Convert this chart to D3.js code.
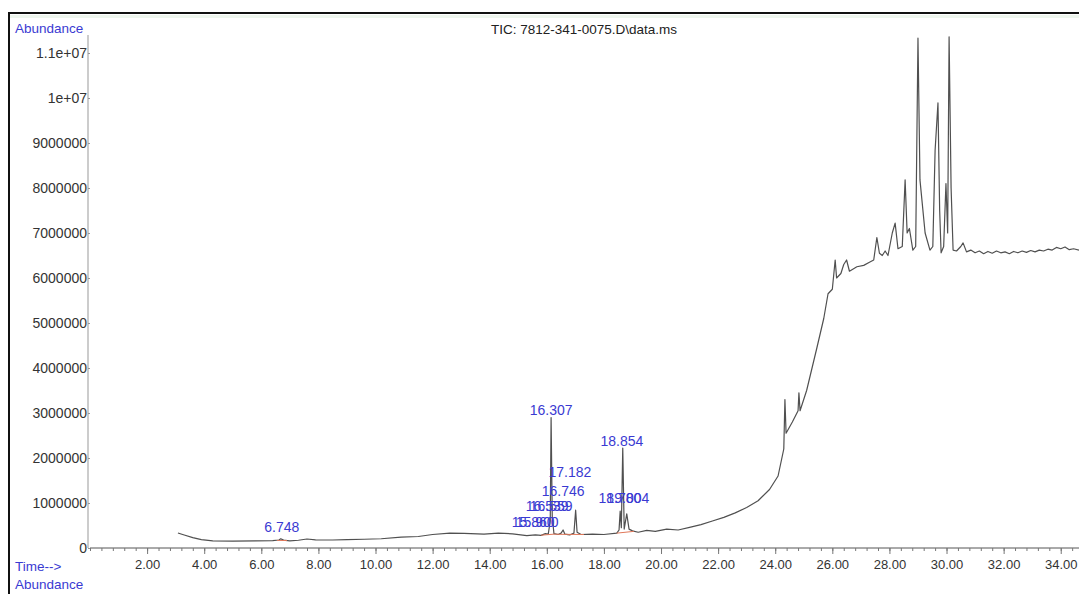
<!DOCTYPE html>
<html>
<head>
<meta charset="utf-8">
<script src="https://cdn.jsdelivr.net/npm/d3@7"></script>
<style>
    body { margin: 0; background: #fff; }
    svg { display: block; font-family: 'Liberation Sans', Arial, sans-serif; }
</style>
</head>
<body>
<svg id="chart" width="1079" height="594"></svg>
<script>
'use strict'

// TIC trace: retention time (min), abundance
const ticTrace = [
    [3.08, 333000], [3.3, 290000], [3.6, 230000], [3.9, 185000], [4.3, 160000],
    [5.0, 155000], [5.8, 158000], [6.4, 165000], [6.62, 178000], [6.68, 205000],
    [6.78, 175000], [7.0, 160000], [7.3, 172000], [7.6, 200000], [7.9, 182000],
    [8.5, 178000], [9.0, 185000], [9.6, 195000], [10.2, 205000], [10.9, 240000],
    [11.5, 255000], [12.0, 300000], [12.6, 330000], [13.1, 325000], [13.8, 310000],
    [14.3, 330000], [14.8, 315000], [15.3, 275000], [15.6, 290000], [15.8, 280000],
    [15.95, 320000], [16.05, 310000], [16.12, 600000], [16.15, 2900000], [16.19, 700000],
    [16.25, 320000], [16.4, 300000], [16.5, 330000], [16.57, 400000], [16.63, 310000],
    [16.8, 290000], [16.95, 330000], [17.01, 840000], [17.06, 350000], [17.2, 300000],
    [17.6, 310000], [18.0, 300000], [18.45, 330000], [18.53, 400000], [18.57, 820000],
    [18.61, 450000], [18.66, 2220000], [18.71, 420000], [18.8, 760000], [18.88, 420000],
    [19.0, 380000], [19.2, 350000], [19.5, 390000], [19.8, 370000], [20.2, 420000],
    [20.6, 400000], [21.0, 460000], [21.4, 520000], [21.8, 600000], [22.2, 680000],
    [22.6, 780000], [23.0, 900000], [23.4, 1050000], [23.8, 1300000], [24.1, 1600000],
    [24.3, 2200000], [24.34, 3300000], [24.38, 2550000], [24.6, 2800000], [24.8, 3050000],
    [24.83, 3450000], [24.87, 3050000], [25.1, 3500000], [25.46, 4450000], [25.7, 5100000],
    [25.85, 5650000], [26.0, 5750000], [26.1, 6400000], [26.15, 6000000], [26.3, 6100000],
    [26.4, 6300000], [26.5, 6400000], [26.6, 6150000], [26.86, 6250000], [27.1, 6280000],
    [27.3, 6350000], [27.45, 6400000], [27.56, 6900000], [27.65, 6550000], [27.75, 6500000],
    [27.85, 6600000], [27.95, 6500000], [28.1, 7000000], [28.2, 7220000], [28.3, 6650000],
    [28.45, 6700000], [28.55, 8180000], [28.62, 7000000], [28.7, 7100000], [28.82, 6620000],
    [28.92, 6700000], [29.0, 11330000], [29.07, 8180000], [29.25, 7000000], [29.42, 6620000],
    [29.52, 6700000], [29.6, 8840000], [29.7, 9890000], [29.76, 7500000], [29.81, 6560000],
    [29.9, 6700000], [29.98, 8100000], [30.04, 7000000], [30.09, 11360000], [30.16, 8000000],
    [30.23, 6620000], [30.35, 6600000], [30.5, 6700000], [30.58, 6780000], [30.7, 6580000],
    [30.85, 6620000], [31.0, 6560000], [31.15, 6600000], [31.3, 6540000], [31.45, 6590000],
    [31.6, 6550000], [31.75, 6600000], [31.9, 6560000], [32.05, 6580000], [32.2, 6540000],
    [32.35, 6590000], [32.5, 6560000], [32.65, 6600000], [32.8, 6570000], [32.95, 6610000],
    [33.1, 6580000], [33.25, 6620000], [33.4, 6600000], [33.55, 6640000], [33.7, 6620000],
    [33.85, 6680000], [34.0, 6650000], [34.15, 6690000], [34.3, 6630000], [34.45, 6650000],
    [34.64, 6620000]
]

// integrated peak labels: text, drawn time, anchor abundance
const peakLabels = [
    ['6.748', 6.72, 360000],
    ['15.860', 15.52, 470000],
    ['15.900', 15.66, 470000],
    ['16.539', 16.01, 820000],
    ['16.559', 16.15, 820000],
    ['16.746', 16.57, 1160000],
    ['17.182', 16.81, 1580000],
    ['16.307', 16.15, 2960000],
    ['18.780', 18.56, 1000000],
    ['19.004', 18.84, 1000000],
    ['18.854', 18.63, 2270000]
]

// integration baselines: start time, end time, start value, end value
const baselines = [
    [6.55, 6.9, 170000, 165000],
    [15.8, 16.3, 285000, 310000],
    [16.3, 17.3, 305000, 300000],
    [18.45, 19.05, 330000, 370000]
]

const yTicks = [0, 1e6, 2e6, 3e6, 4e6, 5e6, 6e6, 7e6, 8e6, 9e6, 1e7, 1.1e7]
const yTickLabels = ['0', '1000000', '2000000', '3000000', '4000000', '5000000',
    '6000000', '7000000', '8000000', '9000000', '1e+07', '1.1e+07']
const xTicks = [2, 4, 6, 8, 10, 12, 14, 16, 18, 20, 22, 24, 26, 28, 30, 32, 34]
const xMinorTicks = d3.range(0, 34.65, 0.4)

const title = 'TIC: 7812-341-0075.D\\data.ms'

const blue = '#3a3ad2'
const svg = d3.select('#chart')

const x = d3.scaleLinear().domain([0, 34.64]).range([90, 1079])
const y = d3.scaleLinear().domain([0, 1.14e7]).range([548, 35])

// frame
svg.append('rect').attr('x', 10).attr('y', 15).attr('width', 1069).attr('height', 3)
    .attr('fill', '#eef6ee')
svg.append('path').attr('d', 'M9,594V13H1079')
    .attr('fill', 'none').attr('stroke', '#111').attr('stroke-width', 2)

// y axis
const yAxis = svg.append('g')
    .attr('transform', `translate(${x(0)},0)`)
    .call(d3.axisLeft(y).tickValues(yTicks)
        .tickFormat((d, i) => yTickLabels[i]).tickSize(2).tickPadding(1))
yAxis.select('.domain').attr('stroke', '#999').attr('d', `M-2,${y(0)}V${y(1.14e7)}`)
yAxis.selectAll('line').attr('stroke', '#999')
yAxis.selectAll('text').attr('fill', '#333').style('font-size', '14px')

// x axis
const xMinor = svg.append('g')
    .attr('transform', `translate(0,${y(0)})`)
    .call(d3.axisBottom(x).tickValues(xMinorTicks).tickFormat('').tickSize(3))
xMinor.selectAll('line').attr('stroke', '#777')
xMinor.select('.domain').attr('stroke', '#555').attr('d', `M${x(0)},0H1079`)

const xAxis = svg.append('g')
    .attr('transform', `translate(0,${y(0)})`)
    .call(d3.axisBottom(x).tickValues(xTicks).tickFormat(d3.format('.2f')).tickSize(6))
xAxis.select('.domain').remove()
xAxis.selectAll('line').attr('stroke', '#777')
xAxis.selectAll('text').attr('fill', '#333').attr('y', 12).style('font-size', '13px')

// trace
const line = d3.line().x((d) => x(d[0])).y((d) => y(d[1]))
svg.append('path')
    .datum(ticTrace)
    .attr('d', line)
    .attr('fill', 'none')
    .attr('stroke', '#505050')
    .attr('stroke-width', 1.2)
    .attr('stroke-linejoin', 'round')

svg.append('g').selectAll('line')
    .data(baselines)
    .join('line')
    .attr('x1', (d) => x(d[0])).attr('x2', (d) => x(d[1]))
    .attr('y1', (d) => y(d[2])).attr('y2', (d) => y(d[3]))
    .attr('stroke', '#e0785a')
    .attr('stroke-width', 1)

svg.append('g').selectAll('text')
    .data(peakLabels)
    .join('text')
    .attr('x', (d) => x(d[1]))
    .attr('y', (d) => y(d[2]))
    .attr('text-anchor', 'middle')
    .attr('fill', blue)
    .style('font-size', '14px')
    .text((d) => d[0])

// captions
svg.append('text').attr('x', 584).attr('y', 34).attr('text-anchor', 'middle')
    .attr('fill', '#222').style('font-size', '13.5px').text(title)
svg.append('text').attr('x', 15).attr('y', 33).attr('fill', blue)
    .style('font-size', '13.5px').text('Abundance')
svg.append('text').attr('x', 15).attr('y', 571).attr('fill', blue)
    .style('font-size', '13.5px').text('Time-->')
svg.append('text').attr('x', 15).attr('y', 589).attr('fill', blue)
    .style('font-size', '13.5px').text('Abundance')
</script>
</body>
</html>
